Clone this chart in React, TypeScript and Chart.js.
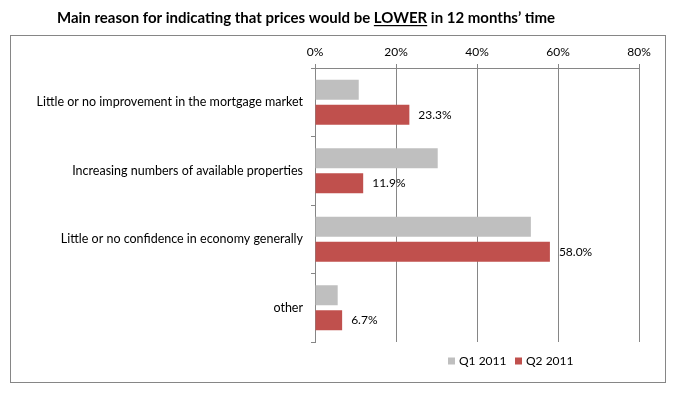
import React, { useEffect, useRef } from "react";
import { Chart, registerables } from "chart.js";

Chart.register(...registerables);

const categories = [
  "Little or no improvement in the mortgage market",
  "Increasing numbers of available properties",
  "Little or no confidence in economy generally",
  "other",
];
const q1Values = [10.8, 30.3, 53.3, 5.6];
const q2Values = [23.3, 11.9, 58.0, 6.7];
const seriesLabels = ["Q1 2011", "Q2 2011"];
const seriesColors = ["#BFBFBF", "#C0504D"];
const axisMin = 0;
const axisMax = 80;
const axisStep = 20;
const titlePrefix = "Main reason for indicating that prices would be ";
const titleEmph = "LOWER";
const titleSuffix = " in 12 months\u2019 time";

const FONT = "Lato";

const decorPlugin = {
  id: "decor",
  beforeDraw(chart: any) {
    const ctx = chart.ctx;
    ctx.save();
    ctx.fillStyle = "#fff";
    ctx.fillRect(0, 0, chart.width, chart.height);
    ctx.strokeStyle = "#868686";
    ctx.lineWidth = 1;
    ctx.strokeRect(10.5, 35.5, 655, 347);
    // title
    ctx.font = `bold 15px ${FONT}`;
    ctx.fillStyle = "#000";
    ctx.textBaseline = "middle";
    ctx.textAlign = "left";
    const w1 = ctx.measureText(titlePrefix).width;
    const w2 = ctx.measureText(titleEmph).width;
    const w3 = ctx.measureText(titleSuffix).width;
    const total = w1 + w2 + w3;
    const x = 306 - total / 2;
    const y = 18;
    ctx.fillText(titlePrefix, x, y);
    ctx.fillText(titleEmph, x + w1, y);
    ctx.fillText(titleSuffix, x + w1 + w2, y);
    ctx.fillRect(x + w1, y + 7, w2, 1.2);
    ctx.restore();
  },
  afterDatasetsDraw(chart: any) {
    const ctx = chart.ctx;
    ctx.save();
    ctx.font = `12px ${FONT}`;
    ctx.fillStyle = "#000";
    ctx.textBaseline = "middle";
    ctx.textAlign = "left";
    const meta = chart.getDatasetMeta(1);
    meta.data.forEach((bar: any, i: number) => {
      ctx.fillText(q2Values[i].toFixed(1) + "%", bar.x + 9, bar.y);
    });
    ctx.restore();
  },
  afterDraw(chart: any) {
    const ctx = chart.ctx;
    ctx.save();
    ctx.font = `12px ${FONT}`;
    ctx.textBaseline = "middle";
    ctx.textAlign = "left";
    const box = 7;
    const gapAfterBox = 4;
    let x = 448;
    const y = 361;
    seriesLabels.forEach((l, i) => {
      ctx.fillStyle = seriesColors[i];
      ctx.fillRect(x, y - 3.5, box, box);
      ctx.fillStyle = "#000";
      ctx.fillText(l, x + box + gapAfterBox, y);
      x += 67;
    });
    ctx.restore();
  },
};

export default function App() {
  const ref = useRef<HTMLCanvasElement | null>(null);
  useEffect(() => {
    if (!ref.current) return;
    const chart = new Chart(ref.current, {
      type: "bar",
      data: {
        labels: categories,
        datasets: [
          {
            label: seriesLabels[0],
            data: q1Values,
            backgroundColor: seriesColors[0],
            categoryPercentage: 0.73,
            barPercentage: 0.8,
          },
          {
            label: seriesLabels[1],
            data: q2Values,
            backgroundColor: seriesColors[1],
            categoryPercentage: 0.73,
            barPercentage: 0.8,
          },
        ],
      },
      options: {
        indexAxis: "y",
        animation: false,
        responsive: false,
        devicePixelRatio: 1,
        layout: { padding: { left: 15, top: 38, right: 40, bottom: 52 } },
        plugins: {
          legend: { display: false },
          title: { display: false },
          tooltip: { enabled: false },
        },
        scales: {
          x: {
            type: "linear",
            position: "top",
            min: axisMin,
            max: axisMax,
            ticks: {
              stepSize: axisStep,
              callback: (v: any) => v + "%",
              font: { family: FONT, size: 12 },
              color: "#000",
              padding: 5,
            },
            grid: { color: "#868686", tickLength: 4, drawTicks: true },
            border: { display: true, color: "#868686" },
            afterFit: (s: any) => {
              s.height = 30;
            },
          },
          y: {
            type: "category",
            offset: true,
            ticks: {
              font: { family: FONT, size: 12.5 },
              color: "#000",
              padding: 8,
            },
            grid: {
              offset: true,
              drawOnChartArea: false,
              drawTicks: true,
              tickLength: 4,
              color: "#868686",
            },
            border: { display: true, color: "#868686" },
            afterFit: (s: any) => {
              s.width = 300;
            },
          },
        },
      },
      plugins: [decorPlugin],
    } as any);
    return () => chart.destroy();
  }, []);
  return (
    <div style={{ position: "absolute", left: 0, top: 0, width: 679, height: 394 }}>
      <canvas ref={ref} width={679} height={394} />
    </div>
  );
}
